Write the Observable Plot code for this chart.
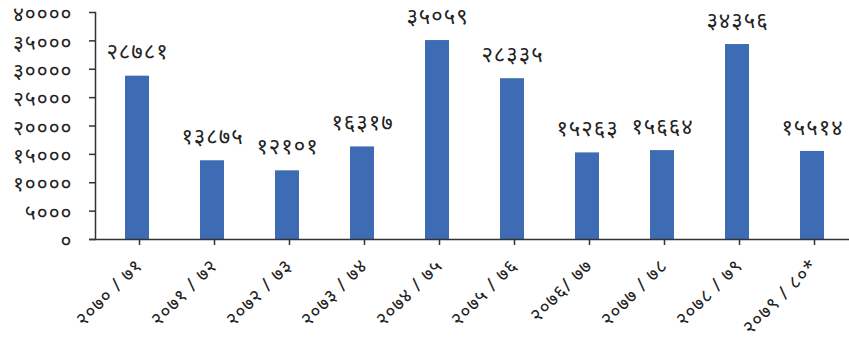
<!DOCTYPE html>
<html><head><meta charset="utf-8">
<script src="https://cdn.jsdelivr.net/npm/d3@7"></script>
<script src="https://cdn.jsdelivr.net/npm/@observablehq/plot@0.6"></script>
<style>body{margin:0;background:#fff;overflow:hidden} svg{display:block} svg text{letter-spacing:1px}</style>
</head><body><div id="chart"></div>
<script>
const years = ["२०७० / ७१", "२०७१ / ७२", "२०७२ / ७३", "२०७३ / ७४", "२०७४ / ७५", "२०७५ / ७६", "२०७६/ ७७", "२०७७ / ७८", "२०७८ / ७९", "२०७९ / ८०*"];
const counts = [28781, 13875, 12101, 16317, 35059, 28335, 15263, 15664, 34356, 15514];
const yTicks = [0, 5000, 10000, 15000, 20000, 25000, 30000, 35000, 40000];
const devDigits = "०१२३४५६७८९";
const toDev = n => String(n).replace(/\d/g, d => devDigits[d]);
const data = years.map((year, i) => ({year, value: counts[i]}));

const chart = Plot.plot({
  width: 849, height: 338,
  marginLeft: 95, marginRight: 0, marginTop: 12, marginBottom: 99,
  style: {fontFamily: "'Noto Sans', sans-serif", fontSize: "22px", color: "#222", background: "#fff"},
  x: {domain: years, range: [95, 853], paddingInner: 0.68, paddingOuter: 0.34, label: null},
  y: {domain: [0, 40000], range: [239, 12], label: null},
  marks: [
    Plot.barY(data, {x: "year", y: "value", fill: "#3E6CB4"}),
    Plot.text(data, {x: "year", y: "value", text: d => toDev(d.value), dy: -24, fontSize: 22, fill: "#222"}),
    Plot.axisY({ticks: yTicks, tickFormat: () => "", tickSize: 6, stroke: "#333", strokeWidth: 1.5, label: null}),
    Plot.axisY({ticks: yTicks, tickFormat: toDev, tickSize: 0, tickPadding: 23, fontSize: 21, fill: "#222", label: null, dy: 2}),
    Plot.frame({anchor: "left", stroke: "#333", strokeWidth: 1.5}),
    Plot.ruleY([0], {stroke: "#333", strokeWidth: 1.5, insetLeft: -6}),
    Plot.axisX({tickSize: 6, tickRotate: -45, textAnchor: "end", stroke: "#333", strokeWidth: 1.5, fontSize: 19, fill: "#222", label: null, tickPadding: 17, dx: 2})
  ]
});
document.getElementById("chart").append(chart);
</script>
</body></html>
